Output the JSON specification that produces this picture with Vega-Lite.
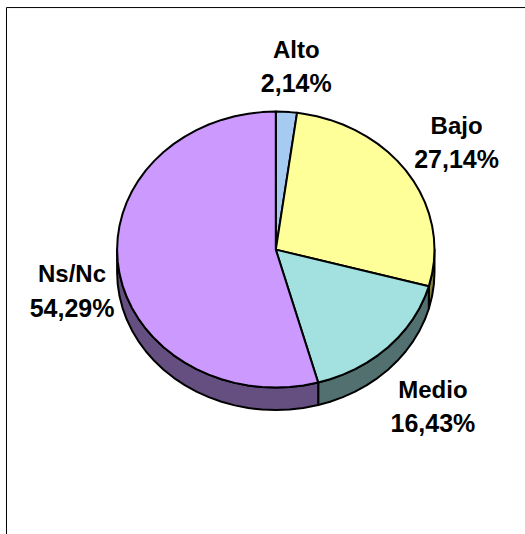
{
"$schema":"https://vega.github.io/schema/vega-lite/v6.json",
"width":525,"height":534,"padding":0,"autosize":"none",
"background":"white",
"view":{"stroke":null},
"datasets":{
"walls":[
{"part":"Bajo lado","xs":[100,99.62,98.48,96.59,96.41,96.41,96.59,98.48,99.62,100],"ys":[0,-8.72,-17.36,-25.88,-26.56,-42.86,-42.18,-33.66,-25.02,-16.3]},
{"part":"Medio lado","xs":[96.41,93.97,90.63,86.6,81.92,76.6,70.71,64.28,57.36,50,42.26,34.2,26.72,26.72,34.2,42.26,50,57.36,64.28,70.71,76.6,81.92,86.6,90.63,93.97,96.41],"ys":[-26.56,-34.2,-42.26,-50,-57.36,-64.28,-70.71,-76.6,-81.92,-86.6,-90.63,-93.97,-96.36,-112.66,-110.27,-106.93,-102.9,-98.22,-92.9,-87.01,-80.58,-73.66,-66.3,-58.56,-50.5,-42.86]},
{"part":"Ns/Nc lado","xs":[26.72,17.36,8.72,0,-8.72,-17.36,-25.88,-34.2,-42.26,-50,-57.36,-64.28,-70.71,-76.6,-81.92,-86.6,-90.63,-93.97,-96.59,-98.48,-99.62,-100,-100,-99.62,-98.48,-96.59,-93.97,-90.63,-86.6,-81.92,-76.6,-70.71,-64.28,-57.36,-50,-42.26,-34.2,-25.88,-17.36,-8.72,0,8.72,17.36,26.72],"ys":[-96.36,-98.48,-99.62,-100,-99.62,-98.48,-96.59,-93.97,-90.63,-86.6,-81.92,-76.6,-70.71,-64.28,-57.36,-50,-42.26,-34.2,-25.88,-17.36,-8.72,0,-16.3,-25.02,-33.66,-42.18,-50.5,-58.56,-66.3,-73.66,-80.58,-87.01,-92.9,-98.22,-102.9,-106.93,-110.27,-112.89,-114.78,-115.92,-116.3,-115.92,-114.78,-112.66]}
],
"tops":[
{"part":"Alto","xs":[0,0,8.72,13.4],"ys":[0,100,99.62,99.1]},
{"part":"Bajo","xs":[0,13.4,17.36,25.88,34.2,42.26,50,57.36,64.28,70.71,76.6,81.92,86.6,90.63,93.97,96.59,98.48,99.62,100,99.62,98.48,96.59,96.41],"ys":[0,99.1,98.48,96.59,93.97,90.63,86.6,81.92,76.6,70.71,64.28,57.36,50,42.26,34.2,25.88,17.36,8.72,0,-8.72,-17.36,-25.88,-26.56]},
{"part":"Medio","xs":[0,96.41,93.97,90.63,86.6,81.92,76.6,70.71,64.28,57.36,50,42.26,34.2,26.72],"ys":[0,-26.56,-34.2,-42.26,-50,-57.36,-64.28,-70.71,-76.6,-81.92,-86.6,-90.63,-93.97,-96.36]},
{"part":"Ns/Nc","xs":[0,26.72,17.36,8.72,0,-8.72,-17.36,-25.88,-34.2,-42.26,-50,-57.36,-64.28,-70.71,-76.6,-81.92,-86.6,-90.63,-93.97,-96.59,-98.48,-99.62,-100,-99.62,-98.48,-96.59,-93.97,-90.63,-86.6,-81.92,-76.6,-70.71,-64.28,-57.36,-50,-42.26,-34.2,-25.88,-17.36,-8.72,0],"ys":[0,-96.36,-98.48,-99.62,-100,-99.62,-98.48,-96.59,-93.97,-90.63,-86.6,-81.92,-76.6,-70.71,-64.28,-57.36,-50,-42.26,-34.2,-25.88,-17.36,-8.72,0,8.72,17.36,25.88,34.2,42.26,50,57.36,64.28,70.71,76.6,81.92,86.6,90.63,93.97,96.59,98.48,99.62,100]}
],
"frame":[{"x":-169.7,"y":-206.09},{"x":-169.7,"y":175.4},{"x":157.03,"y":175.4}],
"labels":[
{"nivel":"Alto","pct":"2,14%","x":12.92,"y":131.8},
{"nivel":"Bajo","pct":"27,14%","x":113.9,"y":77},
{"nivel":"Medio","pct":"16,43%","x":99,"y":-114.4},
{"nivel":"Ns/Nc","pct":"54,29%","x":-128.4,"y":-30.7}
]
},
"layer":[
{"data":{"name":"frame"},
"mark":{"type":"line","stroke":"#000000","strokeWidth":1},
"encoding":{
"x":{"field":"x","type":"quantitative","scale":{"domain":[-173.79,157.03],"nice":false,"zero":false},"axis":null},
"y":{"field":"y","type":"quantitative","scale":{"domain":[-206.09,180.87],"nice":false,"zero":false},"axis":null},
"order":{"value":null}}},
{"data":{"name":"walls"},
"transform":[{"flatten":["xs","ys"],"as":["x","y"]}],
"mark":{"type":"line","interpolate":"linear-closed","stroke":"#000000","strokeWidth":2,"strokeJoin":"round"},
"encoding":{
"x":{"field":"x","type":"quantitative","axis":null},
"y":{"field":"y","type":"quantitative","axis":null},
"order":{"value":null},
"fill":{"field":"part","type":"nominal","legend":null,"scale":{"domain":["Alto","Bajo","Medio","Ns/Nc","Bajo lado","Medio lado","Ns/Nc lado"],"range":["#A6CAF0","#FFFF99","#A3E1E1","#CC99FF","#808040","#527070","#654E80"]}}}},
{"data":{"name":"tops"},
"transform":[{"flatten":["xs","ys"],"as":["x","y"]}],
"mark":{"type":"line","interpolate":"linear-closed","stroke":"#000000","strokeWidth":2,"strokeJoin":"round"},
"encoding":{
"x":{"field":"x","type":"quantitative","axis":null},
"y":{"field":"y","type":"quantitative","axis":null},
"order":{"value":null},
"fill":{"field":"part","type":"nominal","legend":null}}},
{"data":{"name":"labels"},
"mark":{"type":"text","font":"Liberation Sans","fontWeight":"bold","fontSize":24,"align":"center","baseline":"middle","dy":-16.7,"color":"#000000"},
"encoding":{"x":{"field":"x","type":"quantitative","axis":null},"y":{"field":"y","type":"quantitative","axis":null},"text":{"field":"nivel"}}},
{"data":{"name":"labels"},
"mark":{"type":"text","font":"Liberation Sans","fontWeight":"bold","fontSize":25,"align":"center","baseline":"middle","dy":16.7,"color":"#000000"},
"encoding":{"x":{"field":"x","type":"quantitative","axis":null},"y":{"field":"y","type":"quantitative","axis":null},"text":{"field":"pct"}}}
]
}
